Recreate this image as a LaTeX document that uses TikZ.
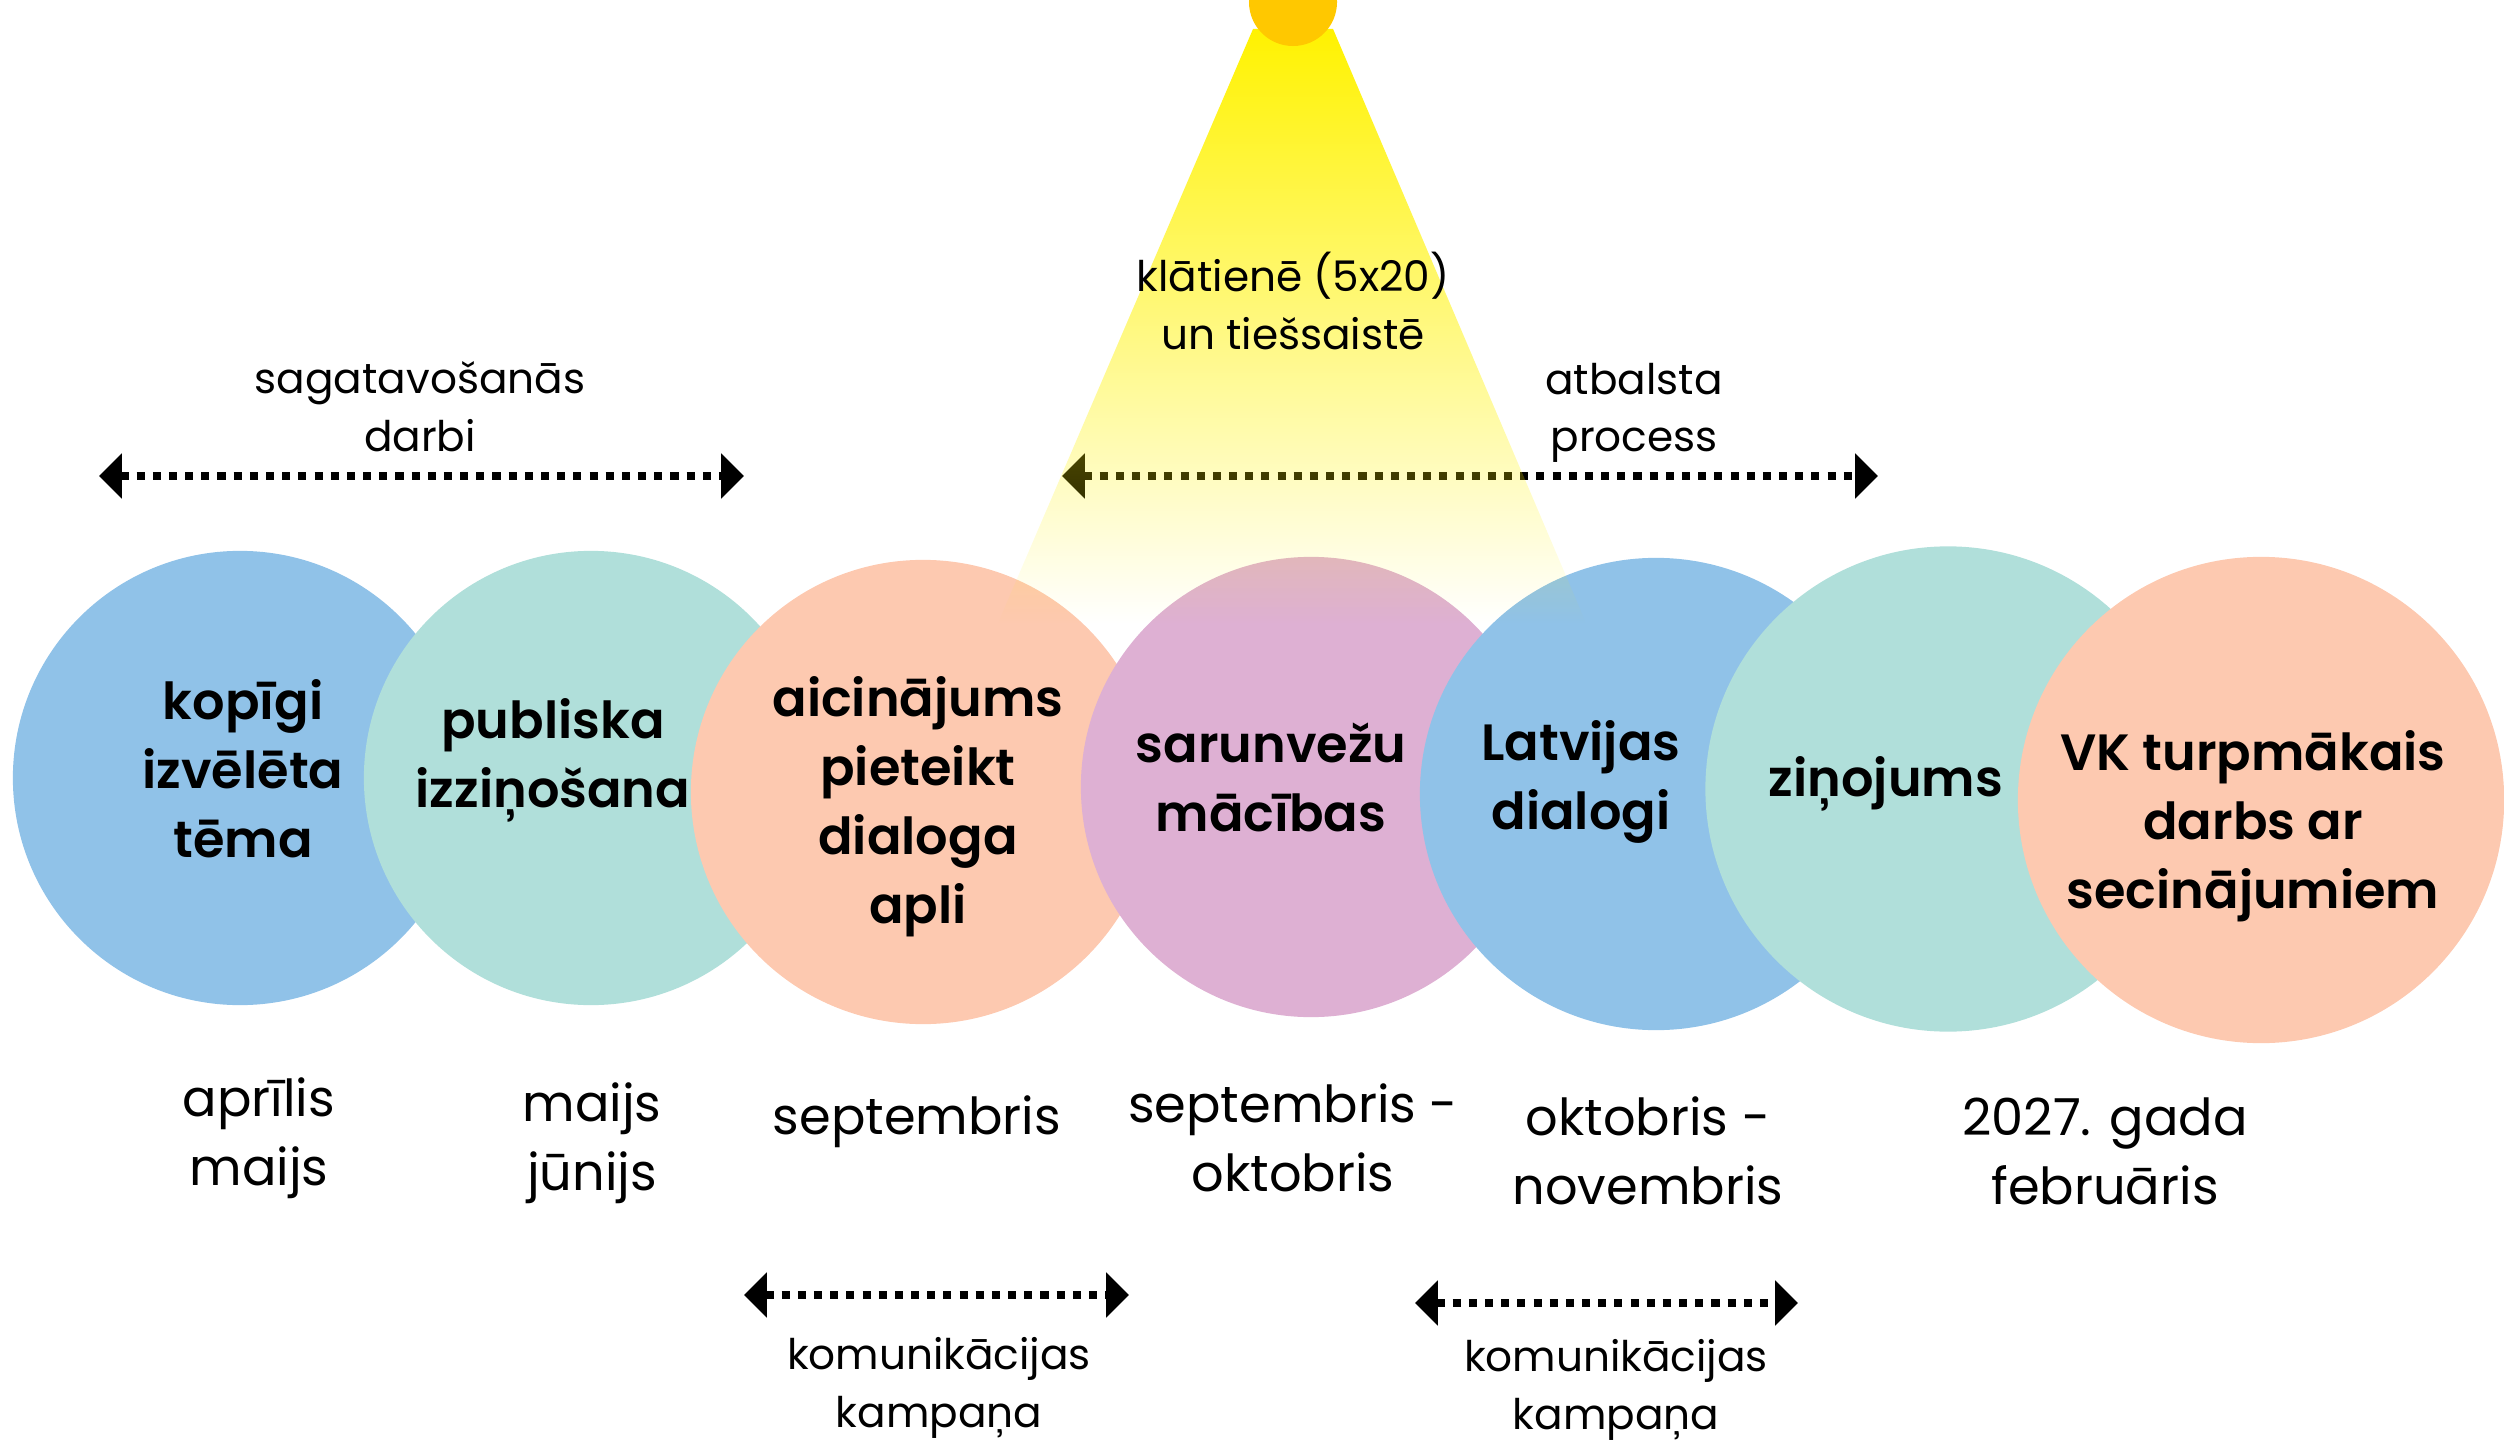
\documentclass[tikz,border=0pt]{standalone}
\usepackage{fontspec}
\setmainfont{Poppins}[BoldFont={Poppins SemiBold}]
\usetikzlibrary{arrows.meta,fadings}
\definecolor{skyblue}{HTML}{90C2E8}
\definecolor{seagreen}{HTML}{B0DFDA}
\definecolor{peach}{HTML}{FDC9B0}
\definecolor{orchid}{HTML}{DEB0D3}
\definecolor{sunorange}{HTML}{FFC800}
\tikzset{
  stage/.style={circle, inner sep=0pt},
  stagetext/.style={align=center, font=\fontsize{14.5}{19.6}\selectfont\bfseries},
  datetext/.style={align=center, font=\fontsize{14.5}{19.6}\selectfont},
  notetext/.style={align=center, font=\fontsize{12}{16.4}\selectfont},
  spanarrow/.style={line width=2.3pt, dash pattern=on 2.3pt off 2.3pt,
    {Triangle[length=6.5pt,width=12.5pt]}-{Triangle[length=6.5pt,width=12.5pt]}}
}

\begin{document}
\begin{tikzpicture}[x=0.01cm,y=-0.01cm]
	\useasboundingbox (0,0) rectangle (2504,1440);
	\node[stage, fill=skyblue, minimum size=4.54cm] (kopigi) at (240,778) {};
	\node[stage, fill=seagreen, minimum size=4.54cm] (publiska) at (591,778) {};
	\node[stage, fill=peach, minimum size=4.64cm] (aicinajums) at (923,792) {};
	\node[stage, fill=orchid, minimum size=4.60cm] (macibas) at (1311,787) {};
	\node[stage, fill=skyblue, minimum size=4.72cm] (dialogi) at (1656,794) {};
	\node[stage, fill=seagreen, minimum size=4.85cm] (zinojums) at (1948,789) {};
	\node[stage, fill=peach, minimum size=4.86cm] (turpmak) at (2261,800) {};
	\coordinate (prepL) at (99,476);
	\coordinate (prepR) at (744,476);
	\coordinate (suppL) at (1062,476);
	\coordinate (suppR) at (1878,476);
	\coordinate (commaL) at (744,1295);
	\coordinate (commaR) at (1129,1295);
	\coordinate (commbL) at (1415,1303);
	\coordinate (commbR) at (1798,1303);
	\draw[spanarrow] (prepL) -- (prepR);
	\draw[spanarrow] (suppL) -- (suppR);
	\draw[spanarrow] (commaL) -- (commaR);
	\draw[spanarrow] (commbL) -- (commbR);
	\fill[yellow, path fading=south] (1253,29) -- (1333,29) -- (1586,623) -- (998,623) -- cycle;
	\node[stage, fill=sunorange, minimum size=0.88cm] (sun) at (1293,2) {};
	\node[notetext] (klatiene) at (1293,301) {klātienē (5x20)\\un tiešsaistē};
	\node[notetext] (prep) at (420,407) {sagatavošanās\\darbi};
	\node[notetext] (supp) at (1634,413) {atbalsta\\process};
	\node[notetext] (comma) at (939,1388) {komunikācijas\\kampaņa};
	\node[notetext] (commb) at (1616,1390) {komunikācijas\\kampaņa};
	\node[stagetext] (kopigit) at (243,769) {kopīgi\\izvēlēta\\tēma};
	\node[stagetext] (publiskat) at (553,760) {publiska\\izziņošana};
	\node[stagetext] (aicinajumst) at (918,807) {aicinājums\\pieteikt\\dialoga\\apli};
	\node[stagetext] (macibast) at (1271,777) {sarunvežu\\mācības};
	\node[stagetext] (dialogit) at (1581,782) {Latvijas\\dialogi};
	\node[stagetext] (zinojumst) at (1886,784) {ziņojums};
	\node[stagetext] (turpmakt) at (2253,826) {VK turpmākais\\darbs ar\\secinājumiem};
	\node[datetext] (aprilis) at (259,1138) {aprīlis\\maijs};
	\node[datetext] (junijs) at (592,1143) {maijs\\jūnijs};
	\node[datetext] (septembris) at (917,1122) {septembris};
	\node[datetext] (oktobris) at (1293,1138) {septembris -\\oktobris};
	\node[datetext] (novembris) at (1648,1151) {oktobris -\\novembris};
	\node[datetext] (februaris) at (2105,1151) {2027. gada\\februāris};
\end{tikzpicture}
\end{document}
